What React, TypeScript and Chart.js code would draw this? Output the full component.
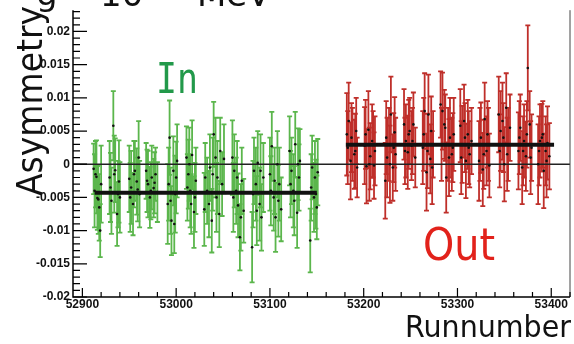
import React, { useEffect, useRef } from "react";
import { Chart, registerables } from "chart.js";

Chart.register(...registerables);

// ---- data ----
const inRuns = [
  52912, 52913, 52914, 52915, 52916, 52917, 52918, 52919, 52920,
  52929, 52930, 52931, 52933, 52934, 52935, 52937, 52938, 52939, 52940,
  52950, 52951, 52952, 52954, 52955, 52956, 52958, 52959, 52960, 52961,
  52968, 52969, 52970, 52972, 52973, 52974, 52976, 52977, 52978, 52980,
  52991, 52992, 52993, 52994, 52995, 52997, 52998, 52999, 53000, 53001,
  53011, 53012, 53013, 53014, 53015, 53016, 53017, 53019, 53020, 53021,
  53030, 53031, 53033, 53035, 53036, 53038, 53039, 53040, 53042, 53043, 53044, 53046, 53047, 53049, 53051,
  53060, 53061, 53062, 53064, 53065, 53066, 53068, 53069, 53070, 53072,
  53081, 53082, 53083, 53085, 53086, 53087, 53089, 53090, 53091, 53093,
  53100, 53101, 53102, 53104, 53105, 53106, 53108, 53109, 53110, 53112,
  53121, 53122, 53123, 53125, 53126, 53127, 53129, 53130, 53131, 53132,
  53143, 53144, 53145, 53147, 53148, 53149, 53150, 53151,
];
const inValues = [
  -0.0007, -0.0040, -0.0015, -0.0019, -0.0051, -0.0053, -0.0065, -0.0100, -0.0030,
  -0.0020, -0.0035, -0.0055, 0.0058, -0.0015, -0.0009, -0.0075, -0.0045, -0.0026, -0.0050,
  -0.0022, -0.0050, -0.0035, -0.0060, -0.0015, -0.0010, -0.0026, -0.0038, 0.0010, -0.0045,
  -0.0010, -0.0025, -0.0030, -0.0050, -0.0040, -0.0020, -0.0036, -0.0028, -0.0015, -0.0042,
  -0.0060, -0.0030, 0.0040, -0.0055, -0.0085, -0.0010, -0.0090, -0.0045, -0.0020, 0.0005,
  0.0010, -0.0035, -0.0015, 0.0000, -0.0040, -0.0060, 0.0014, -0.0072, -0.0050, -0.0025,
  -0.0068, -0.0020, -0.0040, -0.0060, -0.0005, -0.0085, -0.0015, 0.0045, 0.0010, -0.0050, -0.0020, -0.0075, 0.0020, -0.0030, 0.0008,
  0.0010, -0.0050, -0.0010, -0.0040, -0.0020, -0.0062, -0.0110, -0.0080, -0.0025, -0.0070,
  -0.0125, -0.0045, -0.0010, -0.0030, -0.0070, 0.0002, -0.0060, -0.0010, -0.0080, -0.0020,
  -0.0015, -0.0040, 0.0027, -0.0050, -0.0025, -0.0080, 0.0000, -0.0055, -0.0030, -0.0068,
  0.0020, -0.0030, -0.0010, -0.0040, -0.0055, 0.0030, -0.0073, 0.0000, -0.0020, 0.0005,
  -0.0115, -0.0035, -0.0005, -0.0050, -0.0020, -0.0045, -0.0065, -0.0012,
];
const inErrors = [
  0.0038, 0.0055, 0.0050, 0.0055, 0.0048, 0.0052, 0.0050, 0.0040, 0.0058,
  0.0055, 0.0052, 0.0050, 0.0052, 0.0058, 0.0048, 0.0048, 0.0050, 0.0062, 0.0053,
  0.0050, 0.0052, 0.0055, 0.0047, 0.0050, 0.0045, 0.0050, 0.0048, 0.0055, 0.0050,
  0.0042, 0.0047, 0.0050, 0.0046, 0.0043, 0.0048, 0.0044, 0.0046, 0.0040, 0.0045,
  0.0060, 0.0055, 0.0056, 0.0050, 0.0052, 0.0052, 0.0044, 0.0058, 0.0054, 0.0055,
  0.0047, 0.0050, 0.0052, 0.0055, 0.0055, 0.0045, 0.0052, 0.0054, 0.0052, 0.0050,
  0.0055, 0.0052, 0.0050, 0.0050, 0.0050, 0.0048, 0.0055, 0.0049, 0.0060, 0.0052, 0.0055, 0.0050, 0.0050, 0.0048, 0.0052,
  0.0056, 0.0052, 0.0055, 0.0050, 0.0055, 0.0048, 0.0050, 0.0050, 0.0050, 0.0048,
  0.0053, 0.0050, 0.0050, 0.0055, 0.0052, 0.0048, 0.0055, 0.0055, 0.0050, 0.0052,
  0.0055, 0.0052, 0.0052, 0.0050, 0.0050, 0.0052, 0.0050, 0.0054, 0.0055, 0.0048,
  0.0052, 0.0050, 0.0050, 0.0055, 0.0052, 0.0049, 0.0053, 0.0054, 0.0050, 0.0048,
  0.0048, 0.0050, 0.0048, 0.0052, 0.0055, 0.0052, 0.0048, 0.0050,
];

const outRuns = [
  53182, 53183, 53184, 53186, 53187, 53188, 53190, 53191, 53192, 53193,
  53201, 53202, 53203, 53205, 53206, 53207, 53209, 53210, 53211, 53212,
  53223, 53224, 53225, 53227, 53228, 53229, 53231, 53232, 53233, 53234,
  53243, 53244, 53245, 53247, 53248, 53249, 53251, 53252, 53253, 53255,
  53263, 53264, 53265, 53267, 53268, 53269, 53271, 53272, 53273, 53274,
  53282, 53283, 53284, 53286, 53287, 53288, 53290, 53291, 53292, 53294, 53295, 53296,
  53303, 53304, 53305, 53307, 53308, 53309, 53311, 53312, 53313, 53315,
  53323, 53324, 53325, 53327, 53328, 53329, 53331, 53332, 53333, 53334,
  53344, 53345, 53346, 53348, 53349, 53350, 53352, 53353, 53354, 53356,
  53365, 53366, 53367, 53369, 53370, 53371, 53373, 53374, 53375, 53377, 53378, 53379,
  53386, 53387, 53388, 53390, 53391, 53392, 53394, 53395, 53396, 53398,
];
const outValues = [
  0.0045, 0.0025, 0.0065, 0.0005, 0.0040, 0.0030, 0.0015, 0.0020, 0.0050, -0.0005,
  0.0028, 0.0045, -0.0003, 0.0052, 0.0000, 0.0012, 0.0035, 0.0030, -0.0002, 0.0020,
  -0.0025, 0.0040, 0.0010, 0.0030, 0.0000, 0.0075, -0.0005, 0.0025, 0.0048, 0.0015,
  0.0060, 0.0020, 0.0035, 0.0018, 0.0045, 0.0050, 0.0028, 0.0035, 0.0060, 0.0010,
  0.0025, 0.0045, 0.0080, -0.0012, 0.0020, 0.0075, 0.0008, 0.0050, -0.0005, 0.0030,
  0.0090, 0.0030, 0.0080, 0.0060, 0.0055, -0.0020, 0.0030, 0.0010, 0.0040, 0.0015, 0.0025, 0.0045,
  0.0058, 0.0010, 0.0030, 0.0065, 0.0040, 0.0005, 0.0045, 0.0025, 0.0015, 0.0035,
  0.0005, 0.0030, 0.0040, -0.0008, 0.0015, 0.0068, 0.0020, 0.0045, 0.0030, -0.0002,
  0.0075, 0.0020, 0.0050, 0.0065, 0.0040, 0.0000, 0.0085, 0.0015, 0.0030, 0.0055,
  0.0020, 0.0040, 0.0055, -0.0005, 0.0020, 0.0035, 0.0012, 0.0045, 0.0145, 0.0060, 0.0010, 0.0025,
  0.0000, 0.0020, 0.0035, 0.0040, 0.0045, -0.0010, 0.0020, 0.0005, 0.0032, 0.0012,
];
const outErrors = [
  0.0062, 0.0055, 0.0058, 0.0058, 0.0052, 0.0055, 0.0052, 0.0056, 0.0050, 0.0045,
  0.0058, 0.0052, 0.0056, 0.0058, 0.0055, 0.0050, 0.0055, 0.0050, 0.0050, 0.0052,
  0.0057, 0.0055, 0.0060, 0.0055, 0.0058, 0.0057, 0.0050, 0.0052, 0.0053, 0.0055,
  0.0053, 0.0050, 0.0055, 0.0055, 0.0052, 0.0050, 0.0052, 0.0050, 0.0048, 0.0045,
  0.0055, 0.0055, 0.0057, 0.0058, 0.0056, 0.0060, 0.0052, 0.0052, 0.0055, 0.0050,
  0.0050, 0.0055, 0.0058, 0.0052, 0.0050, 0.0053, 0.0055, 0.0058, 0.0060, 0.0055, 0.0052, 0.0055,
  0.0055, 0.0055, 0.0058, 0.0055, 0.0052, 0.0056, 0.0052, 0.0055, 0.0050, 0.0050,
  0.0060, 0.0055, 0.0053, 0.0055, 0.0052, 0.0055, 0.0052, 0.0050, 0.0055, 0.0048,
  0.0057, 0.0055, 0.0060, 0.0058, 0.0052, 0.0056, 0.0052, 0.0055, 0.0055, 0.0050,
  0.0058, 0.0055, 0.0050, 0.0055, 0.0052, 0.0055, 0.0052, 0.0050, 0.0064, 0.0050, 0.0055, 0.0050,
  0.0060, 0.0052, 0.0055, 0.0051, 0.0050, 0.0056, 0.0052, 0.0055, 0.0055, 0.0050,
];

const inFitValue = -0.0043;
const inFitRuns = [52913, 53150];
const outFitValue = 0.00295;
const outFitRuns = [53181, 53403];

const xRange = [52890, 53420];
const yRange = [-0.02, 0.0232];
const xTickValues = [52900, 53000, 53100, 53200, 53300, 53400];
const xTickLabels = ["52900", "53000", "53100", "53200", "53300", "53400"];
const yTickValues = [-0.02, -0.015, -0.01, -0.005, 0, 0.005, 0.01, 0.015, 0.02];
const yTickLabels = ["-0.02", "-0.015", "-0.01", "-0.005", "0", "0.005", "0.01", "0.015", "0.02"];

const GREEN_BAR = "#5bb64c";
const RED_BAR = "#bf2f2a";

// ---- plugins ----
const errorBarPlugin = {
  id: "errorBars",
  beforeDatasetsDraw(chart: any) {
    const { ctx, chartArea } = chart;
    const xs = chart.scales.x;
    const ys = chart.scales.y;
    ctx.save();
    ctx.beginPath();
    ctx.rect(chartArea.left, chartArea.top, chartArea.right - chartArea.left, chartArea.bottom - chartArea.top);
    ctx.clip();
    chart.data.datasets.forEach((ds: any) => {
      if (!ds.errors) return;
      ctx.strokeStyle = ds.errorColor;
      ctx.lineWidth = 1.8;
      ds.data.forEach((p: any, j: number) => {
        const x = xs.getPixelForValue(p.x);
        const yl = ys.getPixelForValue(p.y - ds.errors[j]);
        const yh = ys.getPixelForValue(p.y + ds.errors[j]);
        ctx.beginPath();
        ctx.moveTo(x, yl);
        ctx.lineTo(x, yh);
        ctx.moveTo(x - 2.5, yl);
        ctx.lineTo(x + 2.5, yl);
        ctx.moveTo(x - 2.5, yh);
        ctx.lineTo(x + 2.5, yh);
        ctx.stroke();
      });
    });
    ctx.restore();
  },
};

const frameAndTextPlugin = {
  id: "frameText",
  afterDraw(chart: any) {
    const { ctx, chartArea } = chart;
    const xs = chart.scales.x;
    const ys = chart.scales.y;
    const { left, right, top, bottom } = chartArea;
    ctx.save();
    // frame
    ctx.strokeStyle = "#000";
    ctx.lineWidth = 1.5;
    ctx.beginPath();
    ctx.moveTo(left, top);
    ctx.lineTo(left, bottom);
    ctx.lineTo(right, bottom);
    ctx.stroke();
    ctx.lineWidth = 1;
    ctx.strokeStyle = "#444";
    ctx.beginPath();
    ctx.moveTo(right, top);
    ctx.lineTo(right, bottom);
    ctx.stroke();
    // y ticks (inward)
    ctx.strokeStyle = "#000";
    ctx.lineWidth = 1.2;
    ctx.beginPath();
    for (let i = -20; i <= 23; i++) {
      const y = ys.getPixelForValue(i / 1000);
      const len = i % 5 === 0 ? 14 : 7;
      ctx.moveTo(left, y);
      ctx.lineTo(left + len, y);
    }
    // x ticks (inward)
    for (let r = 52900; r <= 53420; r += 20) {
      const x = xs.getPixelForValue(r);
      const len = r % 100 === 0 ? 9 : 5;
      ctx.moveTo(x, bottom);
      ctx.lineTo(x, bottom - len);
    }
    ctx.stroke();

    const fitText = (text: string, x: number, y: number, font: string, color: string, width: number) => {
      ctx.font = font;
      ctx.fillStyle = color;
      const w = ctx.measureText(text).width;
      ctx.save();
      ctx.translate(x, y);
      ctx.scale(width / w, 1);
      ctx.textAlign = "left";
      ctx.textBaseline = "alphabetic";
      ctx.fillText(text, 0, 0);
      ctx.restore();
    };

    // cut-off title at top
    ctx.font = "34px 'DejaVu Sans'";
    ctx.fillStyle = "#111";
    ctx.textBaseline = "alphabetic";
    ctx.fillText("g", 36, 5);
    ctx.fillText("10", 100, 6);
    ctx.fillText("MeV", 197, 6);

    // y title rotated
    ctx.save();
    ctx.translate(42, 196);
    ctx.rotate(-Math.PI / 2);
    fitText("Asymmetry", 0, 0, "36px 'DejaVu Sans'", "#111", 190);
    ctx.restore();

    // x title
    fitText("Runnumber", 405, 337, "30px 'DejaVu Sans'", "#111", 166);

    // In / Out labels
    fitText("In", 156, 93, "42px 'DejaVu Sans Mono'", "#22994a", 42);
    fitText("Out", 423, 260, "45px 'DejaVu Sans'", "#e2221b", 72);
    ctx.restore();
  },
};

export default function App() {
  const ref = useRef<HTMLCanvasElement | null>(null);
  useEffect(() => {
    if (!ref.current) return;
    const inPts = inRuns.map((r, i) => ({ x: r, y: inValues[i] }));
    const outPts = outRuns.map((r, i) => ({ x: r, y: outValues[i] }));
    const chart = new Chart(ref.current, {
      type: "scatter",
      data: {
        datasets: [
          {
            type: "line",
            data: [
              { x: xRange[0], y: 0 },
              { x: xRange[1], y: 0 },
            ],
            borderColor: "#222",
            borderWidth: 1.5,
            pointRadius: 0,
            order: 4,
          } as any,
          {
            data: inPts,
            errors: inErrors,
            errorColor: GREEN_BAR,
            backgroundColor: "#111",
            borderColor: "#111",
            pointRadius: 1.3,
            borderWidth: 0,
            order: 3,
          } as any,
          {
            data: outPts,
            errors: outErrors,
            errorColor: RED_BAR,
            backgroundColor: "#111",
            borderColor: "#111",
            pointRadius: 1.3,
            borderWidth: 0,
            order: 3,
          } as any,
          {
            type: "line",
            data: inFitRuns.map((r) => ({ x: r, y: inFitValue })),
            borderColor: "#111",
            borderWidth: 4,
            pointRadius: 0,
            order: 1,
          } as any,
          {
            type: "line",
            data: outFitRuns.map((r) => ({ x: r, y: outFitValue })),
            borderColor: "#111",
            borderWidth: 4,
            pointRadius: 0,
            order: 1,
          } as any,
        ],
      },
      options: {
        responsive: false,
        animation: false,
        devicePixelRatio: 1,
        layout: { padding: { left: 8, right: 2, top: 8, bottom: 0 } },
        plugins: { legend: { display: false }, tooltip: { enabled: false } },
        scales: {
          x: {
            type: "linear",
            min: xRange[0],
            max: xRange[1],
            grid: { display: false, drawTicks: false },
            border: { display: false },
            afterBuildTicks: (s: any) => {
              s.ticks = xTickValues.map((v) => ({ value: v }));
            },
            afterFit: (s: any) => {
              s.height = 47;
            },
            ticks: {
              autoSkip: false,
              maxRotation: 0,
              padding: 0,
              color: "#111",
              font: { family: "'Liberation Sans', Arial", size: 12, weight: "bold" },
              callback: (v: any) => {
                const i = xTickValues.indexOf(Number(v));
                return i >= 0 ? xTickLabels[i] : "";
              },
            },
          },
          y: {
            type: "linear",
            min: yRange[0],
            max: yRange[1],
            grid: { display: false, drawTicks: false },
            border: { display: false },
            afterBuildTicks: (s: any) => {
              s.ticks = yTickValues.map((v) => ({ value: v }));
            },
            afterFit: (s: any) => {
              s.width = 65;
            },
            ticks: {
              autoSkip: false,
              padding: 3,
              color: "#111",
              font: { family: "'Liberation Sans', Arial", size: 12, weight: "bold" },
              callback: (v: any) => {
                const i = yTickValues.findIndex((t) => Math.abs(t - Number(v)) < 1e-9);
                return i >= 0 ? yTickLabels[i] : "";
              },
            },
          },
        },
      } as any,
      plugins: [errorBarPlugin, frameAndTextPlugin],
    });
    return () => chart.destroy();
  }, []);
  return (
    <div style={{ position: "absolute", left: 0, top: 0, width: 574, height: 344, background: "#fff" }}>
      <canvas ref={ref} width={574} height={344} style={{ display: "block" }} />
    </div>
  );
}
